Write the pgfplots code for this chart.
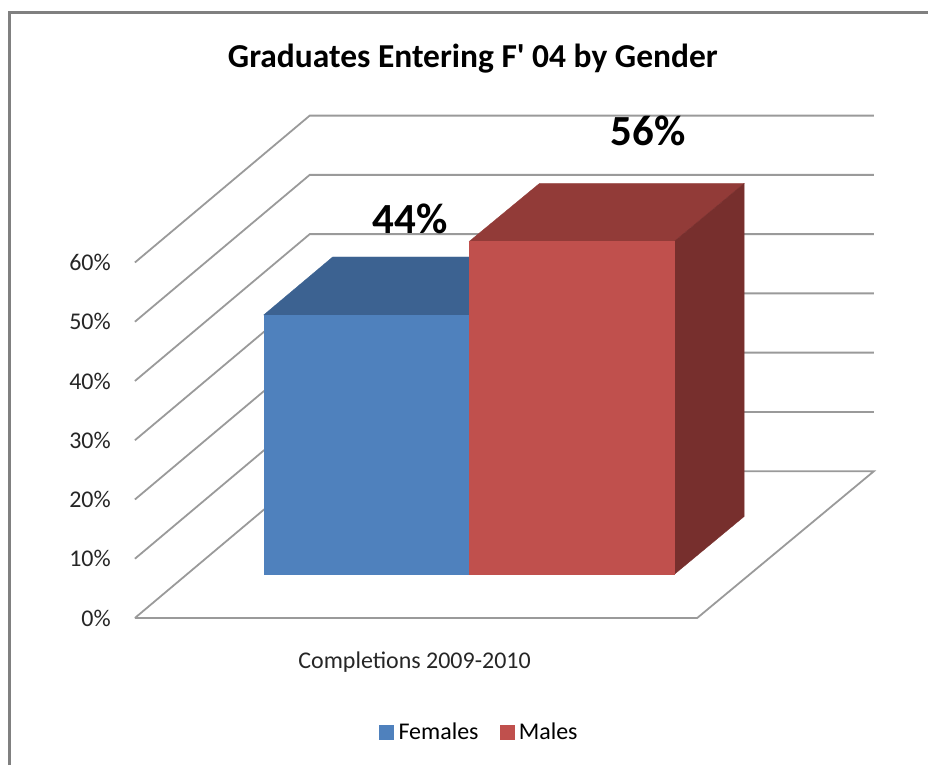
\documentclass[border=0pt]{standalone}
\usepackage{pgfplots}
\pgfplotsset{compat=1.18}
\usepackage{fontspec}
\setmainfont{Carlito}
\newfontfamily\carlitoplain{Carlito}
\definecolor{fblue}{HTML}{4F81BD}
\definecolor{fbluetop}{HTML}{3C6291}
\definecolor{mred}{HTML}{C0504D}
\definecolor{mredtop}{HTML}{923B38}
\definecolor{mredside}{HTML}{772F2D}
\definecolor{gridc}{HTML}{9A9A9A}
\definecolor{framec}{HTML}{808080}
\begin{document}
\begin{tikzpicture}
\begin{axis}[
  scale only axis, width=929pt, height=766pt,
  xmin=0, xmax=929, ymin=-24.83, ymax=104.28,
  axis line style={draw=none}, major tick length=0pt,
  clip=false,
  /pgf/number format/assume math mode=true,
  ytick={0,10,20,30,40,50,60},
  yticklabel={\pgfmathprintnumber{\tick}\%},
  yticklabel style={font=\fontsize{24}{26}\selectfont, anchor=east, xshift=111pt, inner sep=0pt, text=black!85},
  xtick={415}, xticklabels={Completions 2009-2010},
  xticklabel style={font=\fontsize{24}{26}\selectfont, anchor=center, yshift=103pt, inner sep=0pt, text=black!85},
  every axis title shift=0pt,
  title={\carlitoplain\bfseries Graduates Entering F' 04 by Gender},
  title style={at={(rel axis cs:0.5095,0.9230)}, anchor=center, font=\fontsize{33.5}{35}\selectfont, inner sep=0pt},
  legend style={at={(rel axis cs:0.5166,0.0432)}, anchor=center, draw=none, fill=none,
    legend columns=2, font=\fontsize{24}{26}\selectfont, inner sep=0pt,
    /tikz/every even column/.append style={column sep=19pt}},
  legend cell align=left,
  legend image code/.code={\fill[#1] (0pt,-7pt) rectangle (14pt,7pt);},
]
% chart frame
\addplot[framec, line width=2.2pt, forget plot] coordinates {(9.5,-24.83) (9.5,102.2) (929,102.2)};
% walls and floor
\addplot[gridc, line width=1.8pt, forget plot] coordinates {(135,0) (310,24.78) (875,24.78) (698,0) (135,0)};
\addplot[gridc, line width=1.8pt, forget plot] coordinates {(135,10) (310,34.78) (875,34.78)};
\addplot[gridc, line width=1.8pt, forget plot] coordinates {(135,20) (310,44.78) (875,44.78)};
\addplot[gridc, line width=1.8pt, forget plot] coordinates {(135,30) (310,54.78) (875,54.78)};
\addplot[gridc, line width=1.8pt, forget plot] coordinates {(135,40) (310,64.78) (875,64.78)};
\addplot[gridc, line width=1.8pt, forget plot] coordinates {(135,50) (310,74.78) (875,74.78)};
\addplot[gridc, line width=1.8pt, forget plot] coordinates {(135,60) (310,84.78) (875,84.78)};
% Females: top face
\addplot[fill=fbluetop, draw=fbluetop, line width=0.3pt, forget plot] table[x=x, y expr=\thisrow{pct}+\thisrow{d}] {
x pct d
264 43.8 7.35
333 43.8 17.13
470 43.8 17.13
470 43.8 7.35
} -- cycle;
% Males: top and side faces
\addplot[fill=mredtop, draw=mredtop, line width=0.3pt, forget plot] table[x=x, y expr=\thisrow{pct}+\thisrow{d}] {
x pct d
469.7 56.2 7.35
540 56.2 17.13
745 56.2 17.13
675 56.2 7.35
} -- cycle;
\addplot[fill=mredside, draw=mredside, line width=0.3pt, forget plot] table[x=x, y expr=\thisrow{pct}+\thisrow{d}] {
x pct d
675 0 7.35
745 0 17.13
745 56.2 17.13
675 56.2 7.35
} -- cycle;
% front faces, in the legend
\addplot[fill=fblue, draw=fblue, line width=0.3pt] table[x=x, y expr=\thisrow{pct}+\thisrow{d}] {
x pct d
264 0 7.35
469.7 0 7.35
469.7 43.8 7.35
264 43.8 7.35
} -- cycle;
\addlegendentry{\hspace*{3pt}Females}
\addplot[fill=mred, draw=mred, line width=0.3pt] table[x=x, y expr=\thisrow{pct}+\thisrow{d}] {
x pct d
469.7 0 7.35
675 0 7.35
675 56.2 7.35
469.7 56.2 7.35
} -- cycle;
\addlegendentry{\hspace*{3pt}Males}
\node[font=\fontsize{43}{46}\selectfont\bfseries] at (axis cs:410.5,67.42) {44\%};
\node[font=\fontsize{43}{46}\selectfont\bfseries] at (axis cs:649,82.2) {56\%};
\end{axis}
\end{tikzpicture}
\end{document}
